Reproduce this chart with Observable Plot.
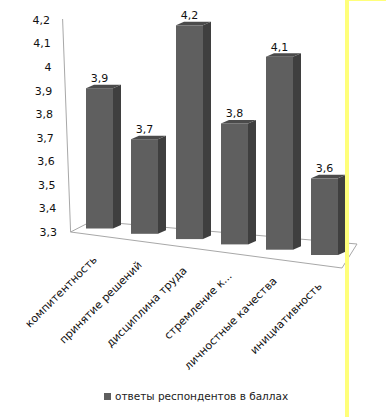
<!DOCTYPE html>
<html><head><meta charset="utf-8">
<script src="https://cdn.jsdelivr.net/npm/d3@7"></script>
<script src="https://cdn.jsdelivr.net/npm/@observablehq/plot@0.6"></script>
<style>
body{margin:0;background:#fff;font-family:"DejaVu Sans",sans-serif;}
#wrap{position:relative;width:386px;height:417px;overflow:hidden;background:#fff}
#yellow{position:absolute;left:345px;top:0;width:4px;height:417px;background:#ffff7a}
#ytop{position:absolute;left:345px;top:0;width:41px;height:1px;background:#ffff7a}
#legend{position:absolute;left:104px;top:390px;font-size:10.5px;color:#222;display:flex;align-items:center;white-space:nowrap}
#legend .sw{display:inline-block;width:7px;height:7px;background:#5f5f5f;margin-right:4px}
</style></head><body>
<div id="wrap"><div id="chart"></div><div id="legend"><span class="sw"></span><span id="legtext"></span></div><div id="yellow"></div><div id="ytop"></div></div>
<script>
const categories = ["компитентность", "принятие решений", "дисциплина труда", "стремление к...", "личностные качества", "инициативность"];
const values = [3.9, 3.7, 4.2, 3.8, 4.1, 3.6];
const yTicks = [3.3, 3.4, 3.5, 3.6, 3.7, 3.8, 3.9, 4.0, 4.1, 4.2];
const seriesName = "ответы респондентов в баллах";
const baseline = 3.3;

const data = categories.map((c, i) => ({cat: c, value: values[i]}));
const fmt = v => String(+v.toFixed(1)).replace(".", ",");

// perspective look (pixel offsets, growing toward the right)
const topShift = i => -2.5 + 3.9 * i;
const botShift = i => -3.5 + 5.3 * i;
const DX = 8, DY = 3.5;
const FRONT = "#5f5f5f", SIDE = "#3f3f3f", TOP = "#4b4b4b";

function bars3d(index, scales, vals, dims) {
  const g = d3.create("svg:g");
  const {x, y} = scales;
  const bw = x.bandwidth();
  const x0 = dims.marginLeft, yb = y(baseline), yt = y(yTicks[yTicks.length - 1]);
  // side wall and floor
  const frame = g.append("g").attr("fill", "none").attr("stroke", "#a8a8a8").attr("stroke-width", 1);
  const A = [x0 + 3.6, yb], B = [x0 + 275, yb + 36], C = [x0 + 290, yb + 12], D = [x0 + 25, yb - 11], W = [x0 - 4.4, yt - 1];
  frame.append("path").attr("d", `M${A}L${B}L${C}L${D}Z`);
  frame.append("path").attr("d", `M${W}L${A}`);
  // y tick labels along the slanted wall
  for (const t of yTicks) {
    const f = (y(t) - yt) / (yb - yt);
    g.append("text").attr("x", x0 - 17 + 7 * f).attr("y", y(t)).attr("dy", "0.35em")
      .attr("text-anchor", "end").attr("fill", "#111").attr("font-size", 11).text(fmt(t));
  }
  for (const i of index) {
    const d = data[i];
    const xl = x(d.cat), xr = xl + bw;
    const top = y(d.value) + topShift(i), bot = yb + botShift(i);
    const bar = g.append("g");
    bar.append("path").attr("fill", SIDE).attr("d", `M${xr},${top}L${xr + DX},${top - DY}L${xr + DX},${bot - DY}L${xr},${bot}Z`);
    bar.append("path").attr("fill", TOP).attr("d", `M${xl},${top}L${xl + DX},${top - DY}L${xr + DX},${top - DY}L${xr},${top}Z`);
    bar.append("rect").attr("fill", FRONT).attr("x", xl).attr("y", top).attr("width", bw).attr("height", bot - top);
    g.append("text").attr("x", xl + bw / 2).attr("y", top - 6).attr("text-anchor", "middle")
      .attr("fill", "#111").attr("font-size", 11).text(fmt(d.value));
    const lx = xl + bw / 2 - 2, ly = bot + 32;
    g.append("text").attr("transform", `translate(${lx},${ly}) rotate(-45)`).attr("text-anchor", "end")
      .attr("fill", "#111").attr("font-size", 11).text(d.cat);
  }
  return g.node();
}

const chart = Plot.plot({
  width: 386,
  height: 380,
  marginLeft: 67,
  marginRight: 29,
  marginTop: 20,
  marginBottom: 148,
  style: {fontFamily: "DejaVu Sans", fontSize: "11px", color: "#111", background: "transparent"},
  x: {domain: categories, padding: 0.4, axis: null},
  y: {domain: [baseline, yTicks[yTicks.length - 1]], axis: null},
  marks: [
    Plot.barY(data, {x: "cat", y1: baseline, y2: "value", render: bars3d})
  ]
});
document.getElementById("chart").appendChild(chart);
document.getElementById("legtext").textContent = seriesName;
</script>
</body></html>
